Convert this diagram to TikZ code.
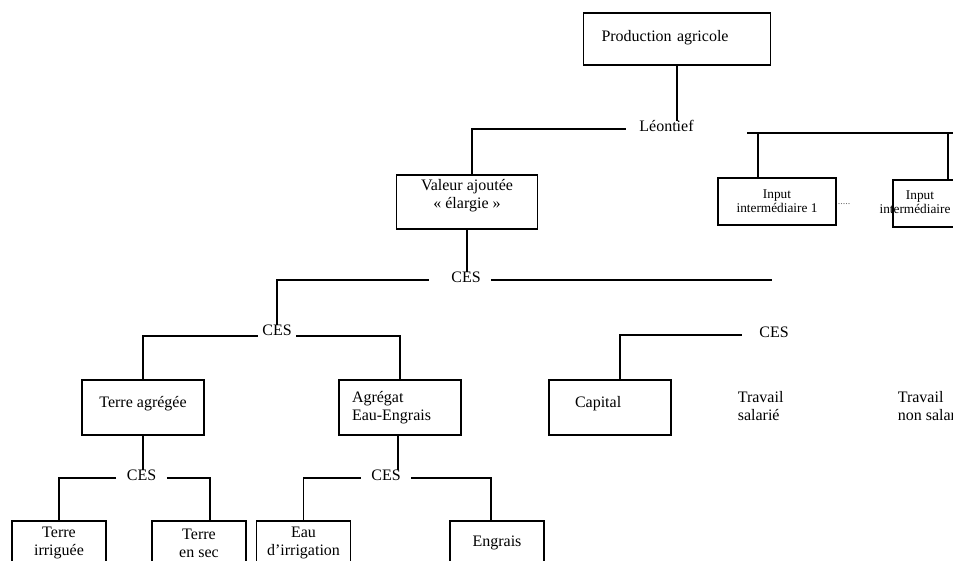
\documentclass[tikz,border=0pt]{standalone}
\usepackage{fontspec}
\setmainfont{Liberation Serif}
\begin{document}
\begin{tikzpicture}[x=1pt,y=-1pt,line width=1.6pt,
    every node/.style={font=\fontsize{16}{18}\selectfont},
    boite/.style={draw,minimum width=122pt,minimum height=55pt,align=center,inner sep=0pt},
    petite/.style={font=\fontsize{13.3}{14}\selectfont},
    jonction/.style={inner xsep=10pt,inner ysep=3pt,text height=1.5ex,text depth=.25ex}]
  \useasboundingbox (0,0) rectangle (953,560);
  \clip (0,0) rectangle (953,560);
  % 方框：总产出
  \node[boite,minimum width=187pt,minimum height=52pt,text width=151pt,align=left,text depth=7pt] (prod) at (677,39) {Production agricole};
  % 连接词：Léontief
  \node[jonction,inner xsep=13pt] (leon) at (666.5,129) {Léontief};
  \coordinate (fin-leon) at (960,133);
  % 第二层：增加值与中间投入（右侧被图边裁掉）
  \node[boite,minimum width=141pt,minimum height=54pt,text depth=16pt] (val) at (467,202) {Valeur ajoutée\\« élargie »};
  \node[boite,petite,minimum width=118pt,minimum height=47pt] (in1) at (777,201.5) {Input\\intermédiaire 1};
  \node[font=\fontsize{10}{10}\selectfont,text=gray!80!black,inner sep=0pt] (pts) at (844,204) {.....};
  \node[boite,minimum width=118pt,minimum height=47pt] (inn) at (952,203.5) {};
  \node[petite,align=center] (inn-t) at (920,202) {Input\\intermédiaire n};
  % 连接词：CES（三处）
  \node[jonction] (ces1) at (466,280) {CES};
  \coordinate (fin-ces1) at (772,281);
  \node[jonction,inner xsep=4pt] (ces2) at (277,333) {CES};
  \node[jonction] (ces3) at (774,335) {CES};
  % 第四层：土地、水肥、资本、劳动
  \node[boite,text depth=11pt] (terre) at (143,407.5) {Terre agrégée};
  \node[boite,text width=96pt,align=left] (agreg) at (400,407.5) {Agrégat\\Eau-Engrais};
  \node[boite,text width=70pt,align=left,text depth=11pt] (cap) at (610,407.5) {Capital};
  \node[align=left,anchor=west,inner sep=0pt] (trav-s) at (737,406.5) {Travail\\salarié};
  \node[align=left,anchor=west,inner sep=0pt] (trav-ns) at (897,406.5) {Travail\\non salarié};
  % 第五层：CES
  \node[jonction] (ces4) at (141.5,478) {CES};
  \node[jonction] (ces5) at (386,478) {CES};
  % 底层方框（下边被图边裁掉）
  \foreach \nom/\x/\txt in {ti/59/Terre\\irriguée, ts/199/Terre\\en sec, eau/303.5/Eau\\d'irrigation, engr/497/Engrais}
    \node[boite,minimum width=94pt,minimum height=44pt] (\nom) at (\x,543) {\txt};
  % 连线：Léontief 层
  \draw (prod.south) -- (prod.south |- leon.north);
  \draw (leon.west) -| ([xshift=5pt]val.north);
  \draw ([xshift=40pt]leon.east |- fin-leon) -- (fin-leon);
  \draw ([xshift=-19pt]in1.north) -- ([xshift=-19pt]in1.north |- fin-leon);
  \draw ([xshift=-4pt]inn.north) -- ([xshift=-4pt]inn.north |- fin-leon);
  % 连线：CES 层
  \draw (val.south) -- (val.south |- ces1.north);
  \draw ([xshift=-12pt]ces1.west) -| (ces2.north);
  \draw (ces1.east) -- (ces1.east -| fin-ces1);
  \draw (ces2.base west) -| (terre.north);
  \draw (ces2.base east) -| (agreg.north);
  \draw ([xshift=-7pt]ces3.west) -| ([xshift=10pt]cap.north);
  % 连线：底层 CES
  \draw (terre.south) -- (terre.south |- ces4.north);
  \draw ([xshift=-2pt]agreg.south) -- ([xshift=-2pt]agreg.south |- ces5.north);
  \draw (ces4.west) -| (ti.north);
  \draw (ces4.east) -| ([xshift=11pt]ts.north);
  \draw (ces5.west) -| (eau.north);
  \draw (ces5.east) -| ([xshift=-6pt]engr.north);
\end{tikzpicture}
\end{document}
